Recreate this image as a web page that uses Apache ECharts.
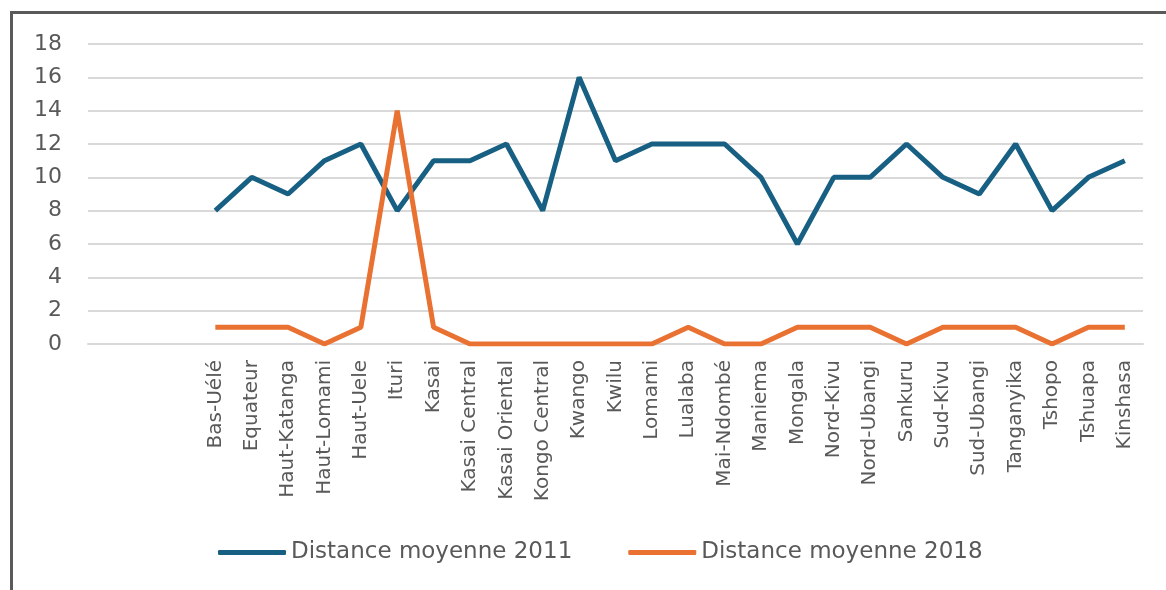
<!DOCTYPE html>
<html><head><meta charset="utf-8">
<script src="https://cdn.jsdelivr.net/npm/echarts@6/dist/echarts.min.js"></script>
<style>html,body{margin:0;padding:0;background:#fff}#c{width:1166px;height:590px}</style>
</head><body><div id="c"></div>
<script>
const leadingBlanks = ['', '', ''];
const categories = ['Bas-Uélé','Equateur','Haut-Katanga','Haut-Lomami','Haut-Uele','Ituri','Kasai','Kasai Central','Kasai Oriental','Kongo Central','Kwango','Kwilu','Lomami','Lualaba','Mai-Ndombé','Maniema','Mongala','Nord-Kivu','Nord-Ubangi','Sankuru','Sud-Kivu','Sud-Ubangi','Tanganyika','Tshopo','Tshuapa','Kinshasa'];
const values2011 = [8,10,9,11,12,8,11,11,12,8,16,11,12,12,12,10,6,10,10,12,10,9,12,8,10,11];
const values2018 = [1,1,1,0,1,14,1,0,0,0,0,0,0,1,0,0,1,1,1,0,1,1,1,0,1,1];
const seriesNames = ['Distance moyenne 2011','Distance moyenne 2018'];
const yTicks = {min:0, max:18, interval:2};

const pad = leadingBlanks.map(() => null);
const font = 'DejaVu Sans';
const chart = echarts.init(document.getElementById('c'), null, {renderer:'canvas'});
chart.setOption({
  animation:false,
  backgroundColor:'#fff',
  textStyle:{fontFamily:font},
  graphic:[{type:'rect', shape:{x:11.5,y:12.5,width:1300,height:700}, style:{fill:'none', stroke:'#5a5a5a', lineWidth:3}, silent:true}],
  grid:{left:88, right:23, top:44, bottom:246, containLabel:false},
  legend:{
    left:213, top:536, itemWidth:68, itemHeight:5, itemGap:56, icon:'roundRect',
    textStyle:{fontFamily:font, fontSize:23, color:'#595959'},
    data:seriesNames
  },
  xAxis:{
    type:'category', boundaryGap:true,
    data:leadingBlanks.concat(categories),
    axisLine:{lineStyle:{color:'#d9d9d9', width:2}},
    axisTick:{show:false},
    axisLabel:{interval:0, rotate:90, margin:16, fontFamily:font, fontSize:20, color:'#595959'}
  },
  yAxis:{
    type:'value', min:yTicks.min, max:yTicks.max, interval:yTicks.interval,
    axisLine:{show:false}, axisTick:{show:false},
    splitLine:{lineStyle:{color:'#d9d9d9', width:2}},
    axisLabel:{margin:26, fontFamily:font, fontSize:22, color:'#595959'}
  },
  series:[
    {name:seriesNames[0], type:'line', data:pad.concat(values2011), symbol:'none', color:'#176083', lineStyle:{width:5, color:'#176083'}},
    {name:seriesNames[1], type:'line', data:pad.concat(values2018), symbol:'none', color:'#e97132', lineStyle:{width:5, color:'#e97132'}}
  ]
});
</script></body></html>
